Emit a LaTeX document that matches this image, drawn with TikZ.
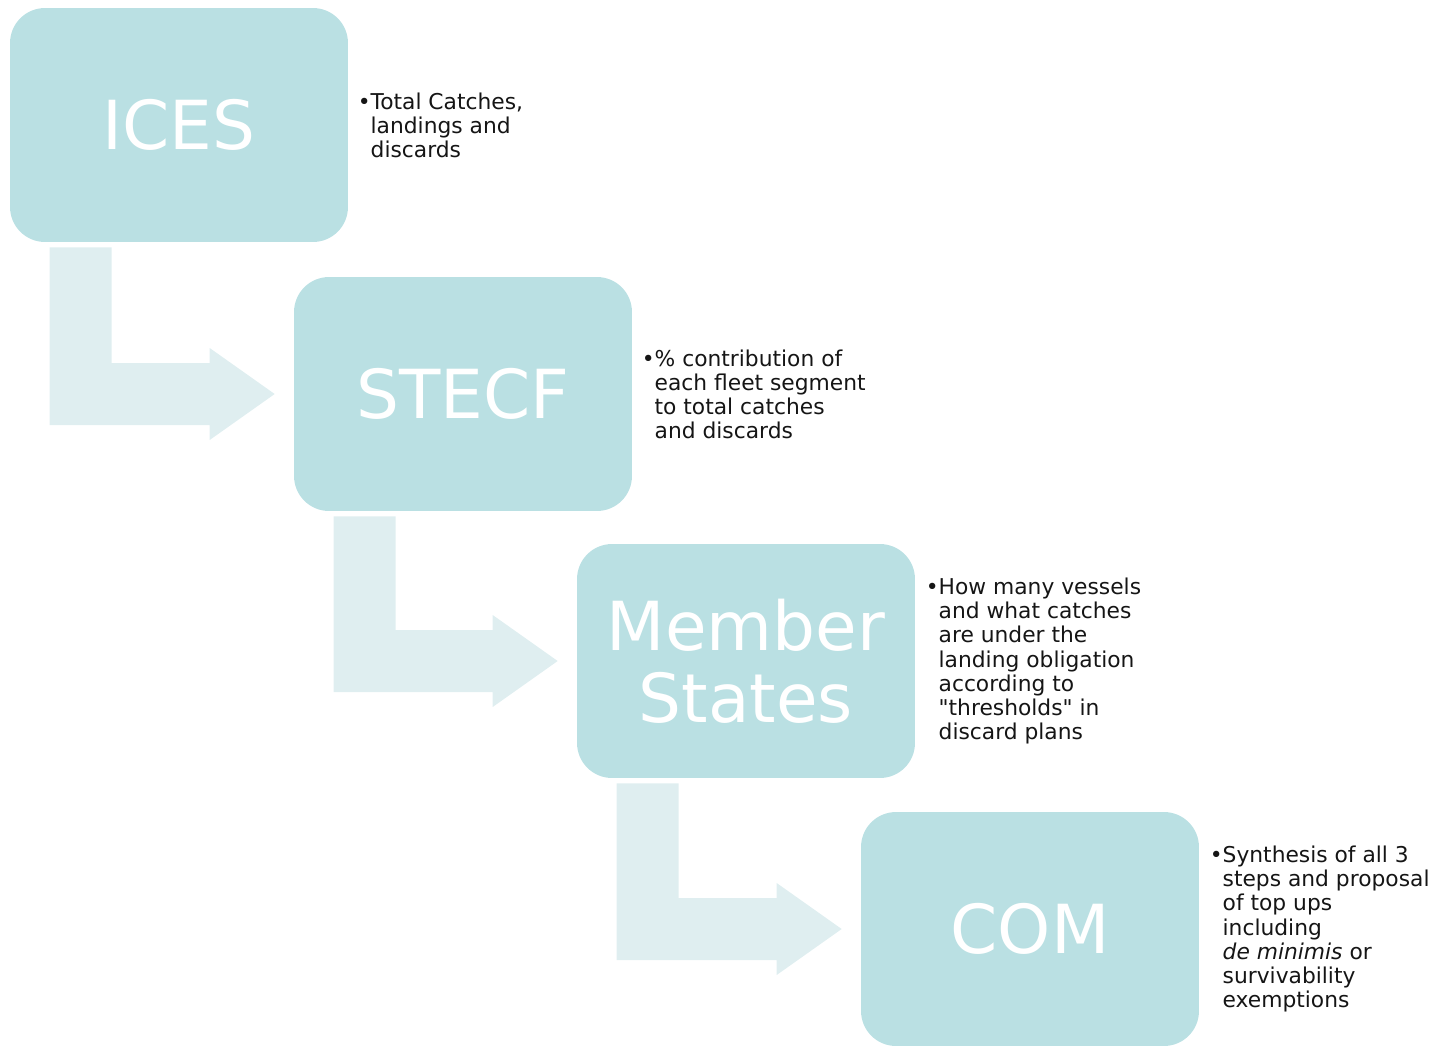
\documentclass[tikz,border=0pt]{standalone}
\usepackage{fontspec}
\setmainfont{DejaVu Sans}
\usetikzlibrary{calc}

\definecolor{boxteal}{HTML}{BAE0E3}
\definecolor{flowteal}{HTML}{DFEEF0}
\definecolor{notegray}{HTML}{151515}

% bent flow arrow from the bottom of one stage to the side of the next
\newcommand{\stageflow}[2]{%
  \coordinate (fa) at ($(#1.south west)+(40,5)$);
  \coordinate (fb) at ($(#1.south west)+(102,5)$);
  \coordinate (ft) at ($(#2.west)+(-19,0)$);
  \coordinate (fu) at ($(ft)+(-65,-31)$);
  \coordinate (fv) at ($(ft)+(-65,-46)$);
  \coordinate (fw) at ($(ft)+(-65,46)$);
  \coordinate (fx) at ($(ft)+(-65,31)$);
  \fill[flow] (fa) -- (fb) -- (fb |- fu) -- (fu) -- (fv) -- (ft)
    -- (fw) -- (fx) -- (fa |- fx) -- cycle;
}

\begin{document}
\begin{tikzpicture}[x=0.02cm,y=-0.02cm]
% Define common styles
\tikzset{
    stage/.style={fill=boxteal, rounded corners=0.7cm, minimum width=6.76cm,
        minimum height=4.68cm, text=white, align=center,
        font=\fontsize{38.5}{41}\selectfont},
    note/.style={anchor=west, inner sep=0pt, align=left, text=notegray,
        font=\fontsize{12.4}{13.7}\selectfont},
    flow/.style={fill=flowteal}
}
\useasboundingbox (0,0) rectangle (1441,1046);

% Stages
\node[stage] (ices) at (179,125) {ICES};
\node[stage] (stecf) at (463,394) {STECF};
\node[stage] (ms) at (746,661) {Member\\States};
\node[stage] (com) at (1030,929) {COM};

% Flow arrows between stages
\stageflow{ices}{stecf}
\stageflow{stecf}{ms}
\stageflow{ms}{com}

% Notes beside each stage
\node[note] (icesnote) at ($(ices.east)+(22,0)$)
    {\llap{•}Total Catches,\\landings and\\discards};
\node[note] (stecfnote) at ($(stecf.east)+(22,0)$)
    {\llap{•}\% contribution of\\each fleet segment\\to total catches\\and discards};
\node[note] (msnote) at ($(ms.east)+(23,0)$)
    {\llap{•}How many vessels\\and what catches\\are under the\\landing obligation\\according to\\\textquotedbl thresholds\textquotedbl{} in\\discard plans};
\node[note] (comnote) at ($(com.east)+(23,0)$)
    {\llap{•}Synthesis of all 3\\steps and proposal\\of top ups\\including\\\textit{de minimis} or\\survivability\\exemptions};

\end{tikzpicture}
\end{document}
